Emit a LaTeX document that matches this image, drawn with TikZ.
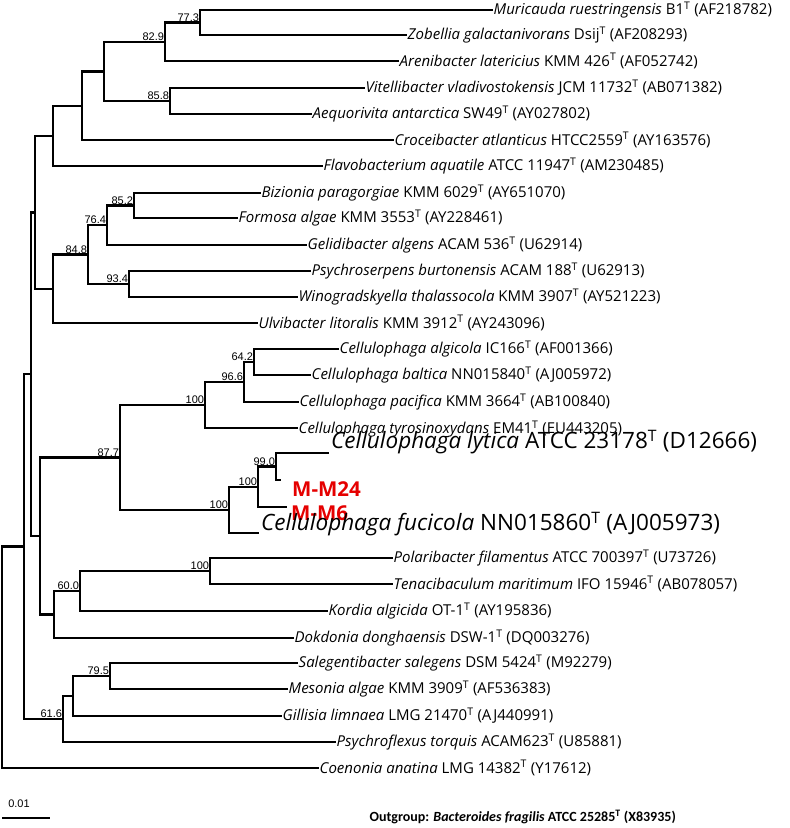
\documentclass[tikz,border=0pt]{standalone}
\usepackage{fontspec}
\setmainfont{Open Sans}
\newfontfamily\bsfont{Liberation Sans}
\newfontfamily\ogfont{Carlito}
\begin{document}
\begin{tikzpicture}[x=1pt,y=-1pt,
  br/.style={line width=2.3pt,line cap=rect},
  lf/.style={anchor=west,inner sep=1.5pt,font=\fontsize{15}{16}\selectfont},
  big/.style={anchor=west,inner sep=0pt,font=\fontsize{22.5}{23}\selectfont},
  red/.style={anchor=west,inner sep=0pt,text=red!90!black,font=\fontsize{20.5}{21}\selectfont\bfseries},
  bs/.style={anchor=south east,inner sep=0.8pt,font=\bsfont\fontsize{11}{12}\selectfont}]
\useasboundingbox (0,0) rectangle (790,828);
% internal nodes
\coordinate (A) at (200,22.5);
\coordinate (B) at (165,42);
\coordinate (C) at (170,101);
\coordinate (D) at (104,71.5);
\coordinate (E) at (82,106);
\coordinate (F) at (53,136);
\coordinate (G) at (134,205.5);
\coordinate (H) at (107,225);
\coordinate (I) at (129,284);
\coordinate (J) at (88,254.5);
\coordinate (K) at (53,289);
\coordinate (L) at (35,212.5);
\coordinate (M) at (254,362);
\coordinate (N) at (244,382);
\coordinate (O) at (205,405);
\coordinate (P) at (276,466.5);
\coordinate (Q) at (258,487);
\coordinate (R) at (229,510);
\coordinate (S) at (120,457.5);
\coordinate (T) at (210,571);
\coordinate (U) at (80,591);
\coordinate (V) at (54,614.5);
\coordinate (W) at (40,536);
\coordinate (X) at (31,374);
\coordinate (Y) at (110,676);
\coordinate (Z) at (73,696);
\coordinate (AA) at (63,719);
\coordinate (AB) at (24,546.5);
\coordinate (RT) at (2,657);
% leaves
\coordinate (l1) at (492,10);
\coordinate (l2) at (406,35);
\coordinate (l3) at (398,61);
\coordinate (l4) at (364,88);
\coordinate (l5) at (311,114);
\coordinate (l6) at (393,140);
\coordinate (l7) at (322,166);
\coordinate (l8) at (260,193);
\coordinate (l9) at (237,218);
\coordinate (l10) at (306,245);
\coordinate (l11) at (310,271);
\coordinate (l12) at (297,297);
\coordinate (l13) at (257,323);
\coordinate (l14) at (338,349);
\coordinate (l15) at (310,375);
\coordinate (l16) at (298,402);
\coordinate (l17) at (297,428);
\coordinate (l18) at (328,453);
\coordinate (l19) at (280,480);
\coordinate (l20) at (286,507);
\coordinate (l21) at (258,533);
\coordinate (l22) at (392,558);
\coordinate (l23) at (392,584);
\coordinate (l24) at (327,611);
\coordinate (l25) at (293,638);
\coordinate (l26) at (297,663);
\coordinate (l27) at (287,689);
\coordinate (l28) at (281,716);
\coordinate (l29) at (335,742);
\coordinate (l30) at (318,768);
% branches
\draw[br] (A) |- (l1); \draw[br] (A) |- (l2);
\draw[br] (B) |- (A); \draw[br] (B) |- (l3);
\draw[br] (C) |- (l4); \draw[br] (C) |- (l5);
\draw[br] (D) |- (B); \draw[br] (D) |- (C);
\draw[br] (E) |- (D); \draw[br] (E) |- (l6);
\draw[br] (F) |- (E); \draw[br] (F) |- (l7);
\draw[br] (G) |- (l8); \draw[br] (G) |- (l9);
\draw[br] (H) |- (G); \draw[br] (H) |- (l10);
\draw[br] (I) |- (l11); \draw[br] (I) |- (l12);
\draw[br] (J) |- (H); \draw[br] (J) |- (I);
\draw[br] (K) |- (J); \draw[br] (K) |- (l13);
\draw[br] (L) |- (F); \draw[br] (L) |- (K);
\draw[br] (M) |- (l14); \draw[br] (M) |- (l15);
\draw[br] (N) |- (M); \draw[br] (N) |- (l16);
\draw[br] (O) |- (N); \draw[br] (O) |- (l17);
\draw[br] (P) |- (l18); \draw[br] (P) |- (l19);
\draw[br] (Q) |- (P); \draw[br] (Q) |- (l20);
\draw[br] (R) |- (Q); \draw[br] (R) |- (l21);
\draw[br] (S) |- (O); \draw[br] (S) |- (R);
\draw[br] (T) |- (l22); \draw[br] (T) |- (l23);
\draw[br] (U) |- (T); \draw[br] (U) |- (l24);
\draw[br] (V) |- (U); \draw[br] (V) |- (l25);
\draw[br] (W) |- (S); \draw[br] (W) |- (V);
\draw[br] (X) |- (L); \draw[br] (X) |- (W);
\draw[br] (Y) |- (l26); \draw[br] (Y) |- (l27);
\draw[br] (Z) |- (Y); \draw[br] (Z) |- (l28);
\draw[br] (AA) |- (Z); \draw[br] (AA) |- (l29);
\draw[br] (AB) |- (X); \draw[br] (AB) |- (AA);
\draw[br] (RT) |- (AB); \draw[br] (RT) |- (l30);
% bootstrap
\node[bs] (bA) at (A) {77.3};
\node[bs] (bB) at (B) {82.9};
\node[bs] (bC) at (C) {85.8};
\node[bs] (bG) at (G) {85.2};
\node[bs] (bH) at (H) {76.4};
\node[bs] (bI) at (I) {93.4};
\node[bs] (bJ) at (J) {84.8};
\node[bs] (bM) at (M) {64.2};
\node[bs] (bN) at (N) {96.6};
\node[bs] (bO) at (O) {100};
\node[bs] (bP) at (P) {99.0};
\node[bs] (bQ) at (Q) {100};
\node[bs] (bR) at (R) {100};
\node[bs] (bS) at (S) {87.7};
\node[bs] (bT) at (T) {100};
\node[bs] (bU) at (U) {60.0};
\node[bs] (bY) at (Y) {79.5};
\node[bs] (bAA) at (AA) {61.6};
% leaf labels
\node[lf] (t1) at (l1) {\textit{Muricauda ruestringensis} B1\textsuperscript{T} (AF218782)};
\node[lf] (t2) at (l2) {\textit{Zobellia galactanivorans} Dsij\textsuperscript{T} (AF208293)};
\node[lf] (t3) at (l3) {\textit{Arenibacter latericius} KMM 426\textsuperscript{T} (AF052742)};
\node[lf] (t4) at (l4) {\textit{Vitellibacter vladivostokensis} JCM 11732\textsuperscript{T} (AB071382)};
\node[lf] (t5) at (l5) {\textit{Aequorivita antarctica} SW49\textsuperscript{T} (AY027802)};
\node[lf] (t6) at (l6) {\textit{Croceibacter atlanticus} HTCC2559\textsuperscript{T} (AY163576)};
\node[lf] (t7) at (l7) {\textit{Flavobacterium aquatile} ATCC 11947\textsuperscript{T} (AM230485)};
\node[lf] (t8) at (l8) {\textit{Bizionia paragorgiae} KMM 6029\textsuperscript{T} (AY651070)};
\node[lf] (t9) at (l9) {\textit{Formosa algae} KMM 3553\textsuperscript{T} (AY228461)};
\node[lf] (t10) at (l10) {\textit{Gelidibacter algens} ACAM 536\textsuperscript{T} (U62914)};
\node[lf] (t11) at (l11) {\textit{Psychroserpens burtonensis} ACAM 188\textsuperscript{T} (U62913)};
\node[lf] (t12) at (l12) {\textit{Winogradskyella thalassocola} KMM 3907\textsuperscript{T} (AY521223)};
\node[lf] (t13) at (l13) {\textit{Ulvibacter litoralis} KMM 3912\textsuperscript{T} (AY243096)};
\node[lf] (t14) at (l14) {\textit{Cellulophaga algicola} IC166\textsuperscript{T} (AF001366)};
\node[lf] (t15) at (l15) {\textit{Cellulophaga baltica} NN015840\textsuperscript{T} (AJ005972)};
\node[lf] (t16) at (l16) {\textit{Cellulophaga pacifica} KMM 3664\textsuperscript{T} (AB100840)};
\node[lf] (t17) at ([yshift=-1]l17) {\textit{Cellulophaga tyrosinoxydans} EM41\textsuperscript{T} (EU443205)};
\node[big] (t18) at ([xshift=3,yshift=11]l18) {\textit{Cellulophaga lytica} ATCC 23178\textsuperscript{T} (D12666)};
\node[red] (t19) at (292,489) {M-M24};
\node[red] (t20) at (291,513) {M-M6};
\node[big] (t21) at ([xshift=3,yshift=9]l21) {\textit{Cellulophaga fucicola} NN015860\textsuperscript{T} (AJ005973)};
\node[lf] (t22) at (l22) {\textit{Polaribacter filamentus} ATCC 700397\textsuperscript{T} (U73726)};
\node[lf] (t23) at (l23) {\textit{Tenacibaculum maritimum} IFO 15946\textsuperscript{T} (AB078057)};
\node[lf] (t24) at (l24) {\textit{Kordia algicida} OT-1\textsuperscript{T} (AY195836)};
\node[lf] (t25) at (l25) {\textit{Dokdonia donghaensis} DSW-1\textsuperscript{T} (DQ003276)};
\node[lf] (t26) at (l26) {\textit{Salegentibacter salegens} DSM 5424\textsuperscript{T} (M92279)};
\node[lf] (t27) at (l27) {\textit{Mesonia algae} KMM 3909\textsuperscript{T} (AF536383)};
\node[lf] (t28) at (l28) {\textit{Gillisia limnaea} LMG 21470\textsuperscript{T} (AJ440991)};
\node[lf] (t29) at (l29) {\textit{Psychroflexus torquis} ACAM623\textsuperscript{T} (U85881)};
\node[lf] (t30) at (l30) {\textit{Coenonia anatina} LMG 14382\textsuperscript{T} (Y17612)};
% scale bar
\coordinate (s1) at (2,818); \coordinate (s2) at (50,818);
\draw[line width=2pt] (s1) -- (s2);
\node[font=\bsfont\fontsize{11}{12}\selectfont,anchor=south] (sl) at (19,811) {0.01};
\node[anchor=west,font=\ogfont\fontsize{14}{16}\selectfont\bfseries] (og) at (366,817) {Outgroup: \textit{Bacteroides fragilis} ATCC 25285\textsuperscript{T} (X83935)};
\end{tikzpicture}
\end{document}
